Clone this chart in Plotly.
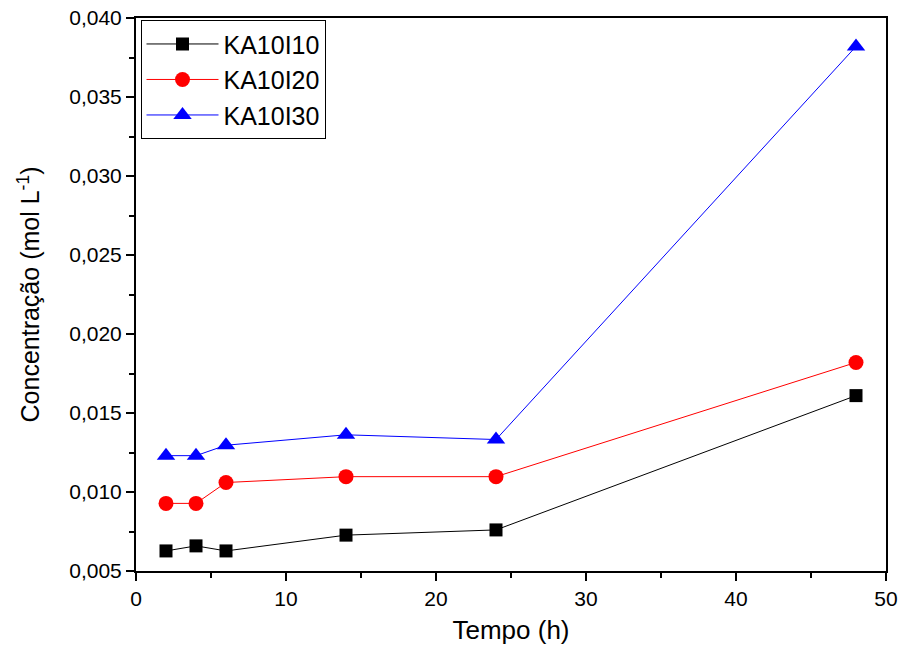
import plotly.graph_objects as go

tempo = [2, 4, 6, 14, 24, 48]
ka10i10 = [0.00627, 0.00659, 0.00627, 0.00727, 0.0076, 0.0161]
ka10i20 = [0.00928, 0.00928, 0.0106, 0.01097, 0.01097, 0.0182]
ka10i30 = [0.0123, 0.0123, 0.01296, 0.01362, 0.01332, 0.0382]
names = ["KA10I10", "KA10I20", "KA10I30"]

fig = go.Figure()
fig.add_trace(go.Scatter(x=tempo, y=ka10i10, name=names[0], mode="lines+markers",
                         line=dict(color="black", width=1),
                         marker=dict(symbol="square", size=13, color="black")))
fig.add_trace(go.Scatter(x=tempo, y=ka10i20, name=names[1], mode="lines+markers",
                         line=dict(color="red", width=1),
                         marker=dict(symbol="circle", size=15, color="red")))
fig.add_trace(go.Scatter(x=tempo, y=ka10i30, name=names[2], mode="lines+markers",
                         line=dict(color="blue", width=1),
                         marker=dict(symbol="triangle-up", size=16, color="blue")))

axis_common = dict(showgrid=False, zeroline=False, showline=True, linecolor="black",
                   linewidth=2, mirror=True, ticks="outside", ticklen=8, tickwidth=2,
                   tickcolor="black", tickfont=dict(size=21, color="black"))

fig.update_layout(
    width=901, height=655,
    margin=dict(l=136, r=15, t=18, b=84),
    paper_bgcolor="white", plot_bgcolor="white",
    font=dict(family="Liberation Sans, Arial, sans-serif", color="black"),
    separators=",.",
    showlegend=True,
    legend=dict(x=0.006, y=0.996, xanchor="left", yanchor="top",
                bordercolor="black", borderwidth=1, bgcolor="white",
                font=dict(size=25), tracegroupgap=0, itemwidth=72),
    xaxis=dict(range=[0, 50], dtick=10, tick0=0, automargin=False,
               minor=dict(ticks="outside", dtick=5, ticklen=5, tickwidth=2, tickcolor="black"),
               title=dict(text="Tempo (h)", font=dict(size=26), standoff=12),
               **axis_common),
    yaxis=dict(range=[0.005, 0.040], dtick=0.005, tick0=0.005, tickformat=".3f", automargin=False,
               minor=dict(ticks="outside", dtick=0.0025, ticklen=5, tickwidth=2, tickcolor="black"),
               title=dict(text="Concentração (mol L<sup>-1</sup>)", font=dict(size=25), standoff=22),
               **axis_common),
)

fig.write_html("out.html")
